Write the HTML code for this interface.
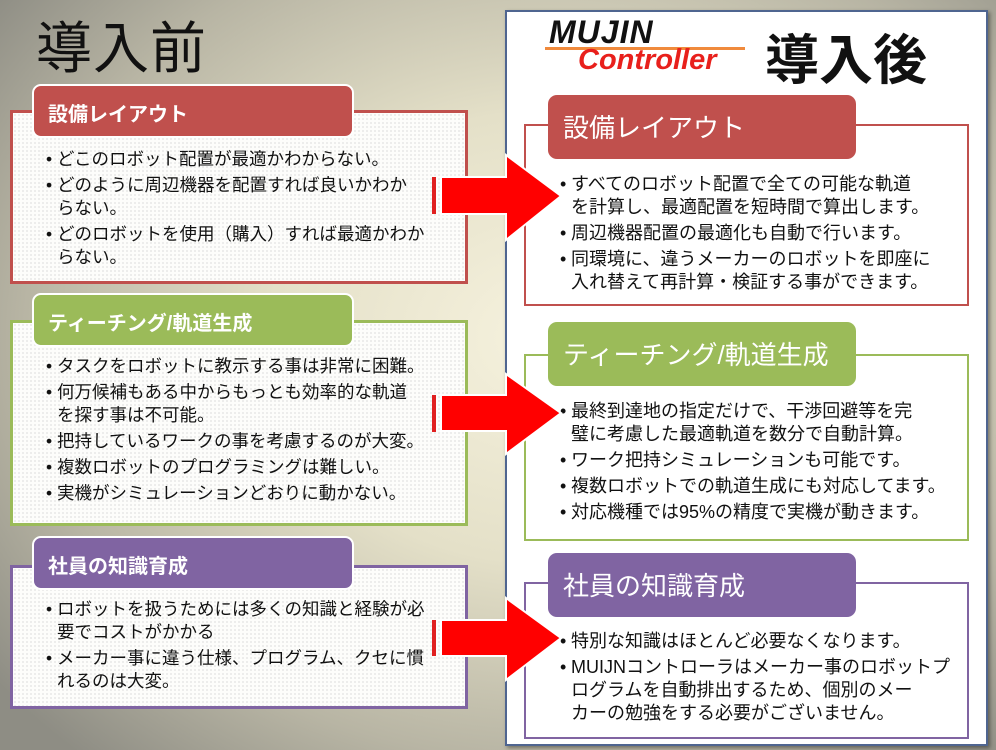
<!DOCTYPE html>
<html><head><meta charset="utf-8"><style>
*{margin:0;padding:0;box-sizing:border-box}
body{width:996px;height:750px;overflow:hidden;position:relative;font-family:"Liberation Sans","Noto Sans CJK JP",sans-serif;
background:radial-gradient(ellipse 70% 75% at 55% 45%,#f6f2de 0%,#e4e0c8 40%,#b8b5a4 75%,#8e8d84 100%);}
.a{position:absolute}
.lbox{position:absolute;left:10px;width:458px;border:3px solid;background-color:#fdfdfb;
background-image:radial-gradient(#d8d8d8 0.6px,transparent 0.9px);background-size:4px 4px}
.tab{position:absolute;border-radius:9px;color:#fff}
.ltab{left:32px;width:322px;height:54px;border:2px solid #fff;font-weight:bold;font-size:20px;padding:12px 0 0 14px}
.rbox{position:absolute;left:524px;width:445px;border:2px solid;background:#fff}
.rtab{left:548px;width:308px;height:64px;font-size:26px;padding:13px 0 0 15px}
ul{position:absolute;list-style:none;color:#111;white-space:nowrap}
li{position:relative;padding-left:11px}
li:before{content:"•";position:absolute;left:0}
.L{font-size:17.5px}
.R{font-size:18px}
.L li{line-height:23px;margin-bottom:3px}
.R li{line-height:23px;margin-bottom:3px}
</style></head><body>
<div class="a" style="left:36px;top:4px;font-size:56px;color:#111;letter-spacing:1px">導入前</div>

<div class="lbox" style="top:110px;height:174px;border-color:#c0504d"></div>
<div class="tab ltab" style="top:84px;background:#c0504d">設備レイアウト</div>
<ul class="L" style="left:46px;top:148px;width:420px">
<li>どこのロボット配置が最適かわからない。</li>
<li>どのように周辺機器を配置すれば良いかわか<br>らない。</li>
<li>どのロボットを使用（購入）すれば最適かわか<br>らない。</li>
</ul>

<div class="lbox" style="top:320px;height:206px;border-color:#9bbb59"></div>
<div class="tab ltab" style="top:293px;background:#9bbb59">ティーチング/軌道生成</div>
<ul class="L" style="left:46px;top:355px;width:420px">
<li>タスクをロボットに教示する事は非常に困難。</li>
<li>何万候補もある中からもっとも効率的な軌道<br>を探す事は不可能。</li>
<li>把持しているワークの事を考慮するのが大変。</li>
<li>複数ロボットのプログラミングは難しい。</li>
<li>実機がシミュレーションどおりに動かない。</li>
</ul>

<div class="lbox" style="top:565px;height:144px;border-color:#8064a2"></div>
<div class="tab ltab" style="top:536px;background:#8064a2">社員の知識育成</div>
<ul class="L" style="left:46px;top:598px;width:420px">
<li>ロボットを扱うためには多くの知識と経験が必<br>要でコストがかかる</li>
<li>メーカー事に違う仕様、プログラム、クセに慣<br>れるのは大変。</li>
</ul>

<div class="a" style="left:505px;top:10px;width:483px;height:736px;background:#fff;border:2px solid #4f6590;box-shadow:2px 2px 4px rgba(0,0,0,.4)"></div>
<div class="a" style="left:549px;top:14px;font-size:32px;font-weight:bold;font-style:italic;color:#111;letter-spacing:1px">MUJIN</div>
<div class="a" style="left:545px;top:47px;width:200px;height:3px;background:#f08a3c"></div>
<div class="a" style="left:578px;top:44px;font-size:29px;font-weight:bold;font-style:italic;color:#e8201c">Controller</div>
<div class="a" style="left:765px;top:16px;font-size:54px;font-weight:bold;color:#111">導入後</div>

<div class="rbox" style="top:124px;height:182px;border-color:#c0504d"></div>
<div class="tab rtab" style="top:95px;background:#c0504d">設備レイアウト</div>
<ul class="R" style="left:560px;top:173px;width:405px">
<li>すべてのロボット配置で全ての可能な軌道<br>を計算し、最適配置を短時間で算出します。</li>
<li>周辺機器配置の最適化も自動で行います。</li>
<li>同環境に、違うメーカーのロボットを即座に<br>入れ替えて再計算・検証する事ができます。</li>
</ul>

<div class="rbox" style="top:354px;height:187px;border-color:#9bbb59"></div>
<div class="tab rtab" style="top:322px;background:#9bbb59">ティーチング/軌道生成</div>
<ul class="R" style="left:560px;top:400px;width:405px">
<li>最終到達地の指定だけで、干渉回避等を完<br>璧に考慮した最適軌道を数分で自動計算。</li>
<li>ワーク把持シミュレーションも可能です。</li>
<li>複数ロボットでの軌道生成にも対応してます。</li>
<li>対応機種では95%の精度で実機が動きます。</li>
</ul>

<div class="rbox" style="top:582px;height:157px;border-color:#8064a2"></div>
<div class="tab rtab" style="top:553px;background:#8064a2">社員の知識育成</div>
<ul class="R" style="left:560px;top:630px;width:405px">
<li>特別な知識はほとんど必要なくなります。</li>
<li>MUIJNコントローラはメーカー事のロボットプ<br>ログラムを自動排出するため、個別のメー<br>カーの勉強をする必要がございません。</li>
</ul>

<svg class="a" style="left:0;top:0" width="996" height="750">
<g fill="#ff0000" stroke="#fff" stroke-width="2">
<rect x="432" y="177" width="4" height="37" stroke="none" fill="#e02020"/>
<polygon points="441,177 506,177 506,155 561,196 506,240 506,214 441,214"/>
<rect x="432" y="395" width="4" height="37" stroke="none" fill="#e02020"/>
<polygon points="441,395 506,395 506,374 561,413 506,454 506,431 441,431"/>
<rect x="432" y="620" width="4" height="36" stroke="none" fill="#e02020"/>
<polygon points="441,620 506,620 506,598 561,638 506,680 506,656 441,656"/>
</g>
</svg>
</body></html>
